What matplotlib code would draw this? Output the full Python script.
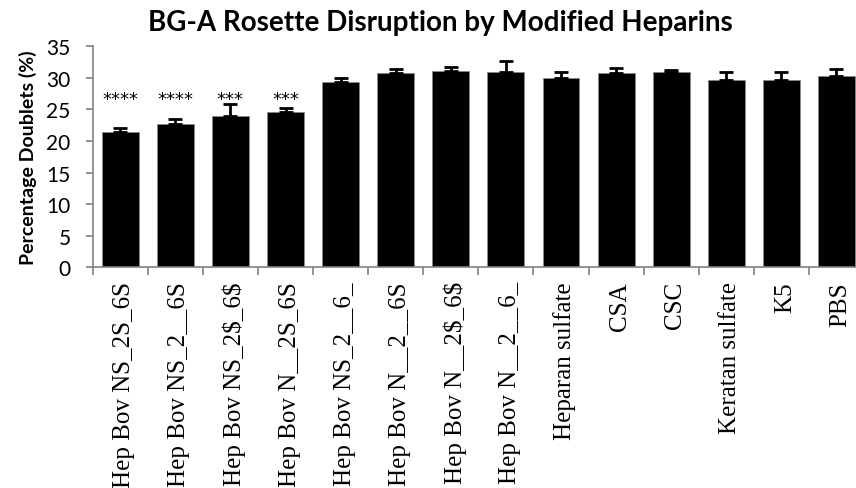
import matplotlib.pyplot as plt
from matplotlib.transforms import ScaledTranslation

plt.rcParams["text.parse_math"] = False  # labels contain literal "$"

# Values
categories = ["Hep Bov NS_2S_6S", "Hep Bov NS_2__6S", "Hep Bov NS_2$_6$", "Hep Bov N__2S_6S",
              "Hep Bov NS_2__6_", "Hep Bov N__2__6S", "Hep Bov N__2$_6$", "Hep Bov N__2__6_",
              "Heparan sulfate", "CSA", "CSC", "Keratan sulfate", "K5", "PBS"]
doublets = [21.5, 22.75, 24.0, 24.55, 29.3, 30.8, 31.1, 31.0, 29.9, 30.8, 30.9, 29.6, 29.6, 30.25]
errors = [0.55, 0.75, 1.8, 0.65, 0.7, 0.55, 0.65, 1.7, 1.1, 0.8, 0.4, 1.3, 1.3, 1.1]
stars = ["****", "****", "***", "***", "", "", "", "", "", "", "", "", "", ""]

fig = plt.figure(figsize=(8.56, 4.89), dpi=100)
ax = fig.add_axes([0.1083, 0.4513, 0.901, 0.452])

x = list(range(len(categories)))
ax.bar(x, doublets, width=0.67, color="black", edgecolor="#888888", linewidth=0.6,
       yerr=[[0] * len(errors), errors], capsize=5,
       error_kw=dict(ecolor="black", elinewidth=2, capthick=2))

for xi, s in zip(x, stars):
    if s:
        ax.text(xi, 26.7, s, ha="center", va="center", fontsize=13, family="DejaVu Sans")

ax.set_xlim(-0.5, len(categories) - 0.5)
ax.set_ylim(0, 35)
ax.set_yticks(range(0, 36, 5))
ax.tick_params(axis="y", direction="out", length=5, width=1.2, color="#808080",
               labelsize=15, pad=11)
for lab in ax.get_yticklabels():
    lab.set_family("Lato")

ax.set_xticks(x)
ax.set_xticklabels(categories, rotation=90, va="top", ha="center",
                   family="Liberation Serif", fontsize=18)
ax.tick_params(axis="x", which="major", length=0, pad=10)
# labels sit a little right of the bar centres in the original
shift = ScaledTranslation(4 / 100, 0, fig.dpi_scale_trans)
for lab in ax.get_xticklabels():
    lab.set_transform(lab.get_transform() + shift)
ax.set_xticks([i - 0.5 for i in range(len(categories) + 1)], minor=True)
ax.tick_params(axis="x", which="minor", direction="out", length=6, width=1.2, color="#808080")

for side in ["top", "right"]:
    ax.spines[side].set_visible(False)
for side in ["left", "bottom"]:
    ax.spines[side].set_color("#808080")
    ax.spines[side].set_linewidth(1.2)

ax.set_ylabel("Percentage Doublets (%)", fontsize=14, fontweight="bold", family="Lato", labelpad=7)
fig.text(0.515, 0.952, "BG-A Rosette Disruption by Modified Heparins", ha="center", va="center",
         fontsize=20, fontweight="bold", family="Lato")

fig.savefig("out.png", dpi=100)
